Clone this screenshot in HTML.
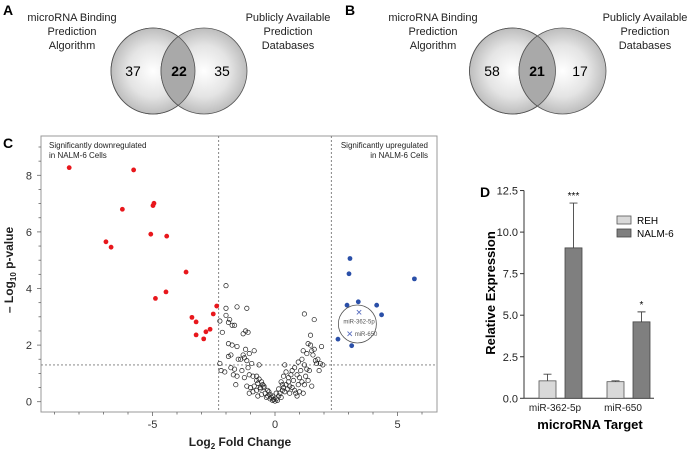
<!DOCTYPE html>
<html><head><meta charset="utf-8"><style>
body{margin:0;background:#fff}
svg{display:block;font-family:"Liberation Sans",Arial,sans-serif}
</style></head><body>
<svg id="fig" width="690" height="452" viewBox="0 0 690 452">
<defs>
<radialGradient id="vg" cx="50%" cy="50%" r="50%"><stop offset="0" stop-color="#ffffff"/><stop offset="0.6" stop-color="#e4e4e4"/><stop offset="1" stop-color="#bdbdbd"/></radialGradient>
<clipPath id="cA"><ellipse cx="153" cy="71" rx="42" ry="43"/></clipPath>
<clipPath id="cB"><ellipse cx="512.5" cy="71" rx="43" ry="43"/></clipPath>
</defs>
<g>
<text x="3" y="15" font-weight="bold" font-size="14">A</text>
<g font-size="11" fill="#222" text-anchor="middle"><text x="72" y="21">microRNA Binding</text><text x="72" y="35">Prediction</text><text x="72" y="49">Algorithm</text></g>
<g font-size="11" fill="#222" text-anchor="middle"><text x="288" y="21">Publicly Available</text><text x="288" y="35">Prediction</text><text x="288" y="49">Databases</text></g>
<ellipse cx="153" cy="71" rx="42" ry="43" fill="url(#vg)" stroke="#555" stroke-width="0.8"/>
<ellipse cx="204" cy="71" rx="43" ry="43" fill="url(#vg)" stroke="#555" stroke-width="0.8"/>
<ellipse cx="204" cy="71" rx="43" ry="43" clip-path="url(#cA)" fill="#a9a9a9" stroke="#555" stroke-width="0.8"/>
<ellipse cx="153" cy="71" rx="42" ry="43" fill="none" stroke="#555" stroke-width="0.8"/>
<text x="133" y="76" font-size="14" text-anchor="middle">37</text>
<text x="179" y="76" font-size="14" font-weight="bold" text-anchor="middle">22</text>
<text x="222" y="76" font-size="14" text-anchor="middle">35</text>
</g>
<g>
<text x="345" y="15" font-weight="bold" font-size="14">B</text>
<g font-size="11" fill="#222" text-anchor="middle"><text x="433" y="21">microRNA Binding</text><text x="433" y="35">Prediction</text><text x="433" y="49">Algorithm</text></g>
<g font-size="11" fill="#222" text-anchor="middle"><text x="645" y="21">Publicly Available</text><text x="645" y="35">Prediction</text><text x="645" y="49">Databases</text></g>
<ellipse cx="512.5" cy="71" rx="43" ry="43" fill="url(#vg)" stroke="#555" stroke-width="0.8"/>
<ellipse cx="562.5" cy="71" rx="43.5" ry="43" fill="url(#vg)" stroke="#555" stroke-width="0.8"/>
<ellipse cx="562.5" cy="71" rx="43.5" ry="43" clip-path="url(#cB)" fill="#a9a9a9" stroke="#555" stroke-width="0.8"/>
<ellipse cx="512.5" cy="71" rx="43" ry="43" fill="none" stroke="#555" stroke-width="0.8"/>
<text x="492" y="76" font-size="14" text-anchor="middle">58</text>
<text x="537" y="76" font-size="14" font-weight="bold" text-anchor="middle">21</text>
<text x="580" y="76" font-size="14" text-anchor="middle">17</text>
</g>
<g id="volcano"></g>
<g id="bars"></g>
</svg>
<script>
const NS="http://www.w3.org/2000/svg";
function mk(p,tag,a,txt){const e=document.createElementNS(NS,tag);for(const k in a)e.setAttribute(k,a[k]);if(txt!==undefined)e.textContent=txt;p.appendChild(e);return e;}

// ---- Volcano data ----
const downX=[-8.4,-5.77,-6.23,-4.98,-4.94,-6.9,-6.69,-5.07,-4.42,-3.63,-4.45,-4.88,-2.38,-2.52,-3.39,-3.22,-2.65,-2.82,-3.22,-2.91];
const downY=[8.27,8.19,6.8,6.93,7.01,5.65,5.46,5.92,5.85,4.58,3.88,3.65,3.38,3.1,2.98,2.82,2.56,2.47,2.36,2.22];
const upX=[3.06,3.02,5.69,2.94,3.4,4.15,4.35,2.57,3.13];
const upY=[5.06,4.52,4.34,3.41,3.53,3.41,3.07,2.21,1.98];
const targetNames=["miR-362-5p","miR-650"];
const targetX=[3.43,3.05];
const targetY=[3.16,2.4];
const nsPts=[[-2.0,4.1],[-2.0,3.3],[-1.55,3.35],[-1.15,3.3],[-2.0,3.05],[-1.85,2.9],[-2.25,2.85],[-1.9,2.8],[-1.75,2.7],[-1.65,2.7],[-1.3,2.4],[-1.2,2.5],[-1.1,2.45],[-2.15,2.45],[-1.9,2.05],[-1.75,2.0],[-1.55,1.95],[-1.8,1.65],[-1.9,1.6],[-1.5,1.5],[-1.3,1.65],[-1.25,1.55],[-1.4,1.5],[-1.15,1.45],[-0.85,1.8],[-1.05,1.7],[-1.2,1.85],[-2.25,1.35],[-2.2,1.1],[-2.05,1.05],[-1.8,1.2],[-1.65,1.15],[-1.7,0.95],[-1.55,0.9],[-1.35,1.1],[-1.1,1.2],[-0.95,1.35],[-0.65,1.3],[-1.25,0.85],[-1.05,0.95],[-0.9,0.9],[-0.75,0.9],[-1.6,0.6],[-1.15,0.55],[-1.0,0.5],[-0.85,0.55],[-0.7,0.65],[-0.55,0.7],[-1.05,0.3],[-0.9,0.35],[-0.75,0.4],[-0.6,0.45],[-0.45,0.5],[-0.7,0.2],[-0.55,0.25],[-0.4,0.3],[-0.3,0.2],[-0.25,0.35],[-0.2,0.1],[-0.15,0.15],[-0.1,0.05],[-0.05,0.08],[-0.35,0.15],[-0.5,0.6],[-0.65,0.8],[-0.75,0.75],[-0.45,0.55],[-0.3,0.4],[-0.2,0.25],[-0.1,0.2],[-0.6,0.5],[0,0.02],[0.05,0.1],[0.1,0.05],[0.15,0.2],[0.2,0.3],[0.25,0.15],[0.3,0.4],[0.35,0.5],[0.4,0.35],[0.45,0.6],[0.5,0.45],[0.55,0.7],[0.6,0.55],[0.7,0.5],[0.75,0.75],[0.8,0.4],[0.85,0.3],[0.9,0.2],[0.35,0.9],[0.45,1.05],[0.55,0.85],[0.65,0.95],[0.8,1.2],[0.9,0.95],[1.0,0.85],[1.05,1.1],[1.1,0.7],[1.2,0.6],[1.25,0.9],[1.3,1.15],[1.4,1.1],[1.5,0.55],[1.35,0.75],[0.95,1.4],[1.1,1.5],[1.2,1.3],[1.15,1.8],[1.3,1.7],[1.35,2.05],[1.45,2.0],[1.5,1.8],[1.6,1.85],[1.45,2.35],[1.55,1.65],[1.65,1.45],[1.7,1.35],[1.75,1.5],[1.85,1.35],[1.8,1.1],[1.9,1.95],[1.95,1.3],[1.2,3.1],[1.6,2.9],[0.4,1.3],[0.7,1.1],[0.6,0.3],[0.25,0.7],[0.15,0.45],[0.05,0.3],[1.0,0.35],[1.15,0.3],[0.95,0.6],[0.3,0.6]];
const vxTicks=[-5,0,5];
const vyTicks=[0,2,4,6,8];
const fcCut=2.3, pCut=1.3;

// ---- Bar data ----
const barCats=["miR-362-5p","miR-650"];
const rehVals=[1.05,1.0];
const rehErr=[0.4,0.05];
const nalmVals=[9.05,4.6];
const nalmErr=[2.7,0.6];
const sigLabels=["***","*"];
const bTicks=[0,2.5,5,7.5,10,12.5];

(function(){
const g=document.getElementById('volcano');
const X0=41,X1=437,Y0=136,Y1=412;
const xs=v=>275+v*24.5, ys=v=>401.7-v*28.3;
mk(g,'text',{x:3,y:148,'font-size':14,'font-weight':'bold'},'C');
const fr=mk(g,'rect',{x:X0,y:Y0,width:X1-X0,height:Y1-Y0,fill:'none',stroke:'#999','stroke-width':1});

for(let v=-9;v<=6;v++){const t=mk(g,'line',{x1:xs(v),x2:xs(v),y1:Y1,y2:Y1+(v%5===0?4:2.5),stroke:'#666','stroke-width':0.8});}
for(let v=0;v<=9;v+=0.5){mk(g,'line',{x1:X0,x2:X0-(v%2===0?4:2.5),y1:ys(v),y2:ys(v),stroke:'#666','stroke-width':0.8});}
vxTicks.forEach(v=>{const t=mk(g,'text',{x:xs(v),y:428,'font-size':11,'text-anchor':'middle',fill:'#333'},v<0?'-'+Math.abs(v):String(v));
});
vyTicks.forEach(v=>{const t=mk(g,'text',{x:32,y:ys(v)+4,'font-size':11,'text-anchor':'end',fill:'#333'},String(v));
});
[-fcCut,fcCut].forEach(v=>{const l=mk(g,'line',{x1:xs(v),x2:xs(v),y1:Y0,y2:Y1,stroke:'#777','stroke-dasharray':'2,2','stroke-width':0.9});
});
const hl=mk(g,'line',{x1:X0,x2:X1,y1:ys(pCut),y2:ys(pCut),stroke:'#777','stroke-dasharray':'2,2','stroke-width':0.9});

const a1=mk(g,'text',{x:49,y:148,'font-size':8,fill:'#222'});mk(a1,'tspan',{x:49},'Significantly downregulated');mk(a1,'tspan',{x:49,dy:10},'in NALM-6 Cells');

const a2=mk(g,'text',{x:428,y:148,'font-size':8,fill:'#222','text-anchor':'end'});mk(a2,'tspan',{x:428},'Significantly upregulated');mk(a2,'tspan',{x:428,dy:10},'in NALM-6 Cells');

nsPts.forEach(p=>{const c=mk(g,'circle',{cx:xs(p[0]),cy:ys(p[1]),r:2.2,fill:'none',stroke:'#222','stroke-width':0.7});
});
downX.forEach((v,i)=>{const c=mk(g,'circle',{cx:xs(v),cy:ys(downY[i]),r:2.4,fill:'#e8171c'});
});
upX.forEach((v,i)=>{const c=mk(g,'circle',{cx:xs(v),cy:ys(upY[i]),r:2.4,fill:'#2a4fa8'});
});
const cx=(xs(targetX[0])+xs(targetX[1]))/2+3, cy=(ys(targetY[0])+ys(targetY[1]))/2+1;
const ring=mk(g,'circle',{cx:cx,cy:cy,r:19,fill:'#fff','fill-opacity':0.8,stroke:'#555','stroke-width':0.8});

targetX.forEach((v,i)=>{const x=xs(v),y=ys(targetY[i]);
const m=mk(g,'path',{d:`M${x-2.2},${y-2.2}L${x+2.2},${y+2.2}M${x-2.2},${y+2.2}L${x+2.2},${y-2.2}`,stroke:'#5a6fc0','stroke-width':0.9});
});
const l1=mk(g,'text',{x:xs(targetX[0]),y:ys(targetY[0])+11,'font-size':6,'text-anchor':'middle',fill:'#555'},targetNames[0]);

const l2=mk(g,'text',{x:xs(targetX[1])+5,y:ys(targetY[1])+2,'font-size':6,fill:'#555'},targetNames[1]);

const xt=mk(g,'text',{x:240,y:446,'font-size':12,'font-weight':'bold','text-anchor':'middle',fill:'#222'});
mk(xt,'tspan',{},'Log');mk(xt,'tspan',{'font-size':8,dy:3},'2');mk(xt,'tspan',{dy:-3},'  Fold Change');

const yt=mk(g,'text',{transform:'translate(13,270) rotate(-90)','font-size':12,'font-weight':'bold','text-anchor':'middle',fill:'#222'});
mk(yt,'tspan',{},'– Log');mk(yt,'tspan',{'font-size':8,dy:3},'10');mk(yt,'tspan',{dy:-3},'  p-value');

})();

(function(){
const g=document.getElementById('bars');
const ys=v=>398.3-v*16.62;
const AX=524, AXR=654;
mk(g,'text',{x:480,y:197,'font-size':14,'font-weight':'bold'},'D');
mk(g,'line',{x1:AX,x2:AX,y1:ys(12.5),y2:ys(0),stroke:'#333','stroke-width':1});
mk(g,'line',{x1:AX,x2:AXR,y1:ys(0),y2:ys(0),stroke:'#333','stroke-width':1});
bTicks.forEach(v=>{mk(g,'line',{x1:AX-4,x2:AX,y1:ys(v),y2:ys(v),stroke:'#333'});
const t=mk(g,'text',{x:AX-6,y:ys(v)+4,'font-size':11,'text-anchor':'end',fill:'#222'},v.toFixed(1));
});
const groupC=[561,629], bw=17;
barCats.forEach((c,i)=>{
 const rx=groupC[i]-22, nx=groupC[i]+4;
 const r=mk(g,'rect',{x:rx,y:ys(rehVals[i]),width:bw,height:ys(0)-ys(rehVals[i]),fill:'#d9d9d9',stroke:'#555','stroke-width':0.8});
 
 const n=mk(g,'rect',{x:nx,y:ys(nalmVals[i]),width:bw,height:ys(0)-ys(nalmVals[i]),fill:'#7f7f7f',stroke:'#444','stroke-width':0.8});
 
 [[rx,rehVals[i],rehErr[i]],[nx,nalmVals[i],nalmErr[i]]].forEach(b=>{const x=b[0]+bw/2,y1=ys(b[1]),y2=ys(b[1]+b[2]);
  const e=mk(g,'path',{d:`M${x},${y1}L${x},${y2}M${x-4},${y2}L${x+4},${y2}`,stroke:'#444','stroke-width':0.9,fill:'none'});
  });
 const s=mk(g,'text',{x:nx+bw/2,y:ys(nalmVals[i]+nalmErr[i])-4,'font-size':10,'text-anchor':'middle'},sigLabels[i]);
 
 const t=mk(g,'text',{x:groupC[i]-6,y:411,'font-size':10,'text-anchor':'middle',fill:'#222'},c);
 
});
const xt=mk(g,'text',{x:590,y:429,'font-size':13,'font-weight':'bold','text-anchor':'middle'},'microRNA Target');

const yt=mk(g,'text',{transform:'translate(495,293) rotate(-90)','font-size':13,'font-weight':'bold','text-anchor':'middle'},'Relative Expression');

const l1=mk(g,'rect',{x:617,y:216,width:14,height:8,fill:'#d9d9d9',stroke:'#555','stroke-width':0.8});

const l2=mk(g,'rect',{x:617,y:229,width:14,height:8,fill:'#7f7f7f',stroke:'#444','stroke-width':0.8});

const t1=mk(g,'text',{x:637,y:224,'font-size':10},'REH');
const t2=mk(g,'text',{x:637,y:237,'font-size':10},'NALM-6');
})();
</script>
</body></html>
